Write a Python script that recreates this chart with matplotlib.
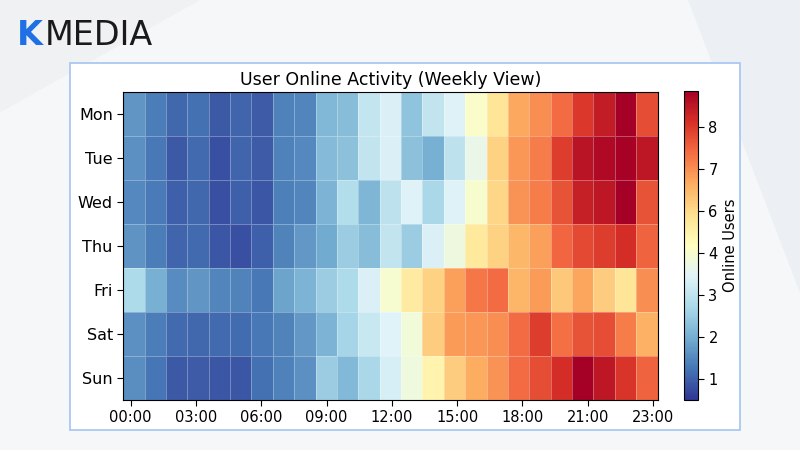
import numpy as np
import matplotlib
matplotlib.use('Agg')
import matplotlib.pyplot as plt
import matplotlib.colors as mcolors
from matplotlib.patches import Rectangle, Polygon

days = ['Mon', 'Tue', 'Wed', 'Thu', 'Fri', 'Sat', 'Sun']
hour_labels = ['00:00', '03:00', '06:00', '09:00', '12:00', '15:00', '18:00', '21:00', '23:00']
cbar_ticks = [1, 2, 3, 4, 6, 7, 8]

# online users per time slot
mon = [1.65, 1.35, 1.10, 1.20, 0.92, 1.05, 0.95, 1.40, 1.45, 2.15, 2.25, 3.05, 3.35,
       2.35, 3.00, 3.40, 4.10, 5.60, 6.70, 7.00, 7.40, 8.00, 8.40, 8.85, 7.75]
tue = [1.60, 1.30, 0.92, 1.12, 0.80, 1.07, 0.95, 1.40, 1.50, 2.20, 2.30, 3.00, 3.35,
       2.30, 2.05, 2.95, 3.65, 6.10, 6.90, 7.20, 7.95, 8.55, 8.70, 8.80, 8.50]
wed = [1.50, 1.33, 1.00, 1.10, 0.80, 1.00, 0.90, 1.38, 1.47, 2.10, 2.80, 2.12, 2.95,
       3.40, 2.70, 3.40, 4.00, 6.05, 6.95, 7.20, 7.70, 8.35, 8.50, 8.85, 7.70]
thu = [1.62, 1.35, 1.07, 1.13, 0.88, 0.80, 1.00, 1.42, 1.68, 1.95, 2.50, 2.25, 3.00,
       2.50, 3.35, 3.75, 5.40, 6.10, 6.50, 6.80, 7.45, 7.80, 7.95, 8.15, 7.50]
fri = [2.75, 2.05, 1.55, 1.65, 1.45, 1.43, 1.28, 1.85, 2.10, 2.50, 2.75, 3.35, 3.95,
       5.30, 6.10, 6.80, 7.25, 7.40, 6.55, 6.85, 6.25, 6.75, 6.20, 5.60, 7.00]
sat = [1.60, 1.35, 1.13, 1.10, 1.13, 1.15, 1.30, 1.42, 1.68, 2.10, 2.65, 3.10, 3.45,
       3.85, 6.20, 6.85, 6.90, 7.00, 7.40, 7.95, 7.35, 7.70, 7.75, 7.20, 6.60]
sun = [1.57, 1.27, 0.92, 0.95, 0.90, 0.88, 1.20, 1.40, 1.60, 2.50, 2.18, 2.70, 3.30,
       3.80, 4.90, 6.20, 6.65, 6.95, 7.40, 7.75, 8.15, 8.85, 8.50, 8.05, 7.50]

data = np.array([mon, tue, wed, thu, fri, sat, sun])


# colour scale squeezes 4..6 into one step, like the reference bar
def fwd(v):
    return np.interp(v, [0, 4, 6, 10], [0, 4, 5, 9])


def inv(p):
    return np.interp(p, [0, 4, 5, 9], [0, 4, 6, 10])


norm = mcolors.FuncNorm((fwd, inv), vmin=0.5, vmax=8.85)

fig = plt.figure(figsize=(8, 4.5), dpi=100)
fig.patch.set_facecolor('#f6f7f9')

# faint background shapes
fig.patches.append(Polygon([[0.86, 1.0], [1.0, 1.0], [1.0, 0.35]], closed=True,
                           transform=fig.transFigure, facecolor='#eceff4', edgecolor='none', zorder=0))
fig.patches.append(Polygon([[0.0, 0.75], [0.25, 1.0], [0.0, 1.0]], closed=True,
                           transform=fig.transFigure, facecolor='#f0f1f3', edgecolor='none', zorder=0))

# logo
fig.text(0.021, 0.9, 'K', fontsize=24, color='#1f6fe5', fontweight='bold', va='baseline')
fig.text(0.056, 0.9, 'MEDIA', fontsize=24, color='#1a1a1a', va='baseline')

# white panel
fig.patches.append(Rectangle((0.0875, 0.0444), 0.8375, 0.8156, transform=fig.transFigure,
                             facecolor='white', edgecolor='#a9c8f2', linewidth=1.3, zorder=1))

ax = fig.add_axes([0.154, 0.111, 0.668, 0.684])
ax.set_zorder(2)
mesh = ax.pcolormesh(np.arange(data.shape[1] + 1), np.arange(len(days) + 1), data,
                     cmap='RdYlBu_r', norm=norm, edgecolors=(1, 1, 1, 0.3), linewidth=0.6)
ax.set_xlim(0, data.shape[1])
ax.set_ylim(len(days), 0)

ax.set_yticks(np.arange(len(days)) + 0.5)
ax.set_yticklabels(days, fontsize=11.5)
ax.set_xticks(np.linspace(0.35, 24.78, len(hour_labels)))
ax.set_xticklabels(hour_labels, fontsize=10.5)
ax.tick_params(length=4)
ax.set_title('User Online Activity (Weekly View)', fontsize=12.5, pad=5)

cax = fig.add_axes([0.855, 0.111, 0.0175, 0.687])
cax.set_zorder(2)
cbar = fig.colorbar(mesh, cax=cax)
cbar.set_ticks(cbar_ticks)
cbar.ax.tick_params(labelsize=10.5, length=4)
cbar.set_label('Online Users', fontsize=10.5, labelpad=4)
cbar.outline.set_linewidth(0.8)

fig.savefig('out.png', dpi=100, facecolor=fig.get_facecolor())
